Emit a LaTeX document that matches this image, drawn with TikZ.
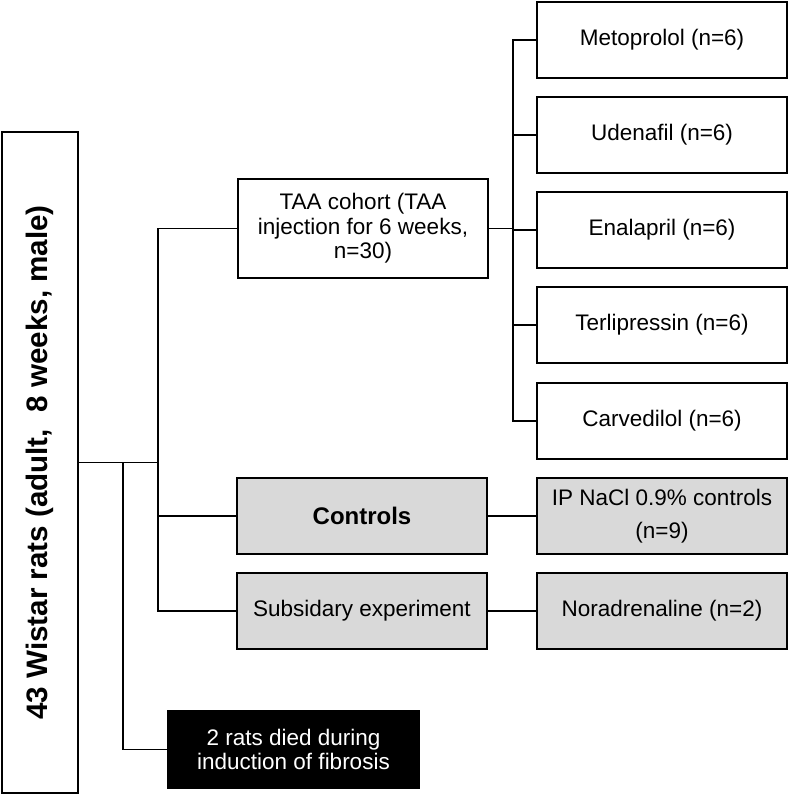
\documentclass[tikz,border=0pt]{standalone}
\usepackage{fontspec}
\setmainfont{Liberation Sans}
\definecolor{boxgray}{HTML}{D9D9D9}
\begin{document}
\begin{tikzpicture}[x=1pt,y=-1pt,
  box/.style={draw=black,line width=1.5pt,fill=white,align=center,inner sep=0pt,
    minimum width=250pt,minimum height=76pt,font=\fontsize{22.5}{24.5}\selectfont},
  graybox/.style={box,fill=boxgray},
  blackbox/.style={box,fill=black,text=white},
  link/.style={line width=1.5pt}]
\useasboundingbox (0,0) rectangle (789,796);
% main vertical box
\node[draw=black,line width=1.5pt,fill=white,rotate=90,inner sep=0pt,
  minimum width=661pt,minimum height=76pt,
  font=\fontsize{29.6}{32}\selectfont\bfseries] (main) at (40,462.5)
  {43 Wistar rats (adult,\ \ 8 weeks, male)};
% second level
\node[box,minimum height=99pt] (taa) at (363,228.5)
  {TAA cohort (TAA\\injection for 6 weeks,\\n=30)};
\node[graybox,font=\fontsize{24}{26}\selectfont\bfseries] (ctrl) at (362,516) {Controls};
\node[graybox] (subs) at (362,611) {Subsidary experiment};
\node[blackbox,minimum width=251pt,minimum height=77pt,
  font=\fontsize{22.5}{23.3}\selectfont] (died) at (293.5,749.5)
  {2 rats died during\\induction of fibrosis};
% third level
\node[box] (m1) at (662,40) {Metoprolol (n=6)};
\node[box] (m2) at (662,135) {Udenafil (n=6)};
\node[box] (m3) at (662,230) {Enalapril (n=6)};
\node[box] (m4) at (662,325) {Terlipressin (n=6)};
\node[box] (m5) at (662,421) {Carvedilol (n=6)};
\node[graybox,font=\fontsize{22.5}{33}\selectfont] (nacl) at (662,516)
  {IP NaCl 0.9\% controls\\(n=9)};
\node[graybox] (nor) at (662,611) {Noradrenaline (n=2)};
% junctions
\coordinate (j1) at (158,462.5);
\coordinate (j2) at (123,462.5);
\coordinate (t) at (513,228.5);
% connectors
\draw[link] (main.south) -- (j1);
\draw[link] (taa.west) -| (j1);
\draw[link] (j1) |- (ctrl.west);
\draw[link] (j1) |- (subs.west);
\draw[link] (j2) |- (died.west);
\draw[link] (taa.east) -- (t);
\draw[link] (t) |- (m1.west);
\draw[link] (t) |- (m2.west);
\draw[link] (t) |- (m3.west);
\draw[link] (t) |- (m4.west);
\draw[link] (t) |- (m5.west);
\draw[link] (ctrl.east) -- (nacl.west);
\draw[link] (subs.east) -- (nor.west);
\end{tikzpicture}
\end{document}
